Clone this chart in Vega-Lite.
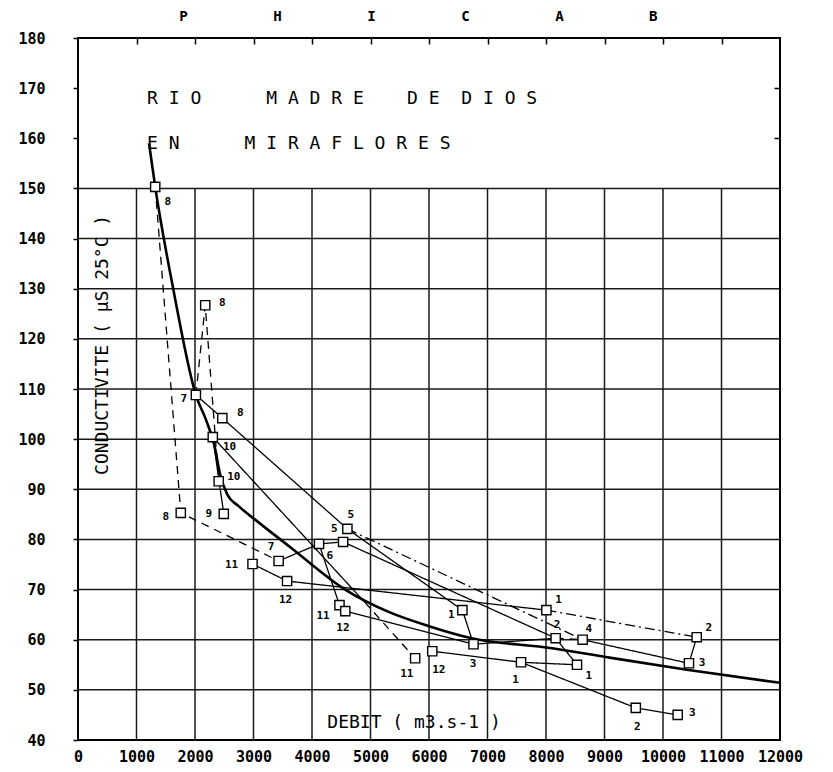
{
  "$schema": "https://vega.github.io/schema/vega-lite/v6.json",
  "width": 702,
  "height": 702,
  "autosize": {"type": "none"},
  "padding": {"left": 78, "top": 38, "right": 53, "bottom": 32},
  "background": "white",
  "config": {"view": {"stroke": "black", "strokeWidth": 2}, "font": "DejaVu Sans Mono"},
  "datasets": {
    "hgrid": [{"g": 50}, {"g": 60}, {"g": 70}, {"g": 80}, {"g": 90}, {"g": 100}, {"g": 110}, {"g": 120}, {"g": 130}, {"g": 140}, {"g": 150}],
    "vgrid": [{"g": 1000}, {"g": 2000}, {"g": 3000}, {"g": 4000}, {"g": 5000}, {"g": 6000}, {"g": 7000}, {"g": 8000}, {"g": 9000}, {"g": 10000}, {"g": 11000}],
    "obs": [
      {"m": "8", "x": 1320, "y": 150.3, "lx": 1535, "ly": 147.3},
      {"m": "8", "x": 2175, "y": 126.7, "lx": 2465, "ly": 127.1},
      {"m": "7", "x": 2015, "y": 108.8, "lx": 1810, "ly": 108},
      {"m": "8", "x": 2467, "y": 104.2, "lx": 2776, "ly": 105.2},
      {"m": "10", "x": 2304, "y": 100.4, "lx": 2590, "ly": 98.4},
      {"m": "10", "x": 2405, "y": 91.6, "lx": 2663, "ly": 92.4},
      {"m": "9", "x": 2492, "y": 85.1, "lx": 2235, "ly": 85.1},
      {"m": "8", "x": 1757, "y": 85.3, "lx": 1500, "ly": 84.5},
      {"m": "5", "x": 4605, "y": 82.1, "lx": 4663, "ly": 84.9},
      {"m": "5", "x": 4532, "y": 79.5, "lx": 4383, "ly": 82.1},
      {"m": "6", "x": 4120, "y": 79.1, "lx": 4303, "ly": 76.7},
      {"m": "7", "x": 3429, "y": 75.7, "lx": 3299, "ly": 78.5},
      {"m": "11", "x": 2983, "y": 75.1, "lx": 2624, "ly": 74.9},
      {"m": "12", "x": 3574, "y": 71.7, "lx": 3549, "ly": 67.9},
      {"m": "11", "x": 4470, "y": 66.9, "lx": 4190, "ly": 64.7},
      {"m": "12", "x": 4569, "y": 65.7, "lx": 4528, "ly": 62.3},
      {"m": "1", "x": 6571, "y": 65.9, "lx": 6380, "ly": 65},
      {"m": "1", "x": 8007, "y": 65.9, "lx": 8215, "ly": 68},
      {"m": "2", "x": 10576, "y": 60.5, "lx": 10785, "ly": 62.3},
      {"m": "2", "x": 8165, "y": 60.3, "lx": 8190, "ly": 62.9},
      {"m": "4", "x": 8626, "y": 60, "lx": 8733, "ly": 62.1},
      {"m": "3", "x": 6761, "y": 59.1, "lx": 6752, "ly": 55.2},
      {"m": "3", "x": 10444, "y": 55.3, "lx": 10667, "ly": 55.3},
      {"m": "1", "x": 8530, "y": 55, "lx": 8730, "ly": 52.8},
      {"m": "1", "x": 7573, "y": 55.5, "lx": 7480, "ly": 52},
      {"m": "12", "x": 6056, "y": 57.7, "lx": 6168, "ly": 54},
      {"m": "11", "x": 5763, "y": 56.3, "lx": 5620, "ly": 53.2},
      {"m": "2", "x": 9535, "y": 46.4, "lx": 9560, "ly": 42.6},
      {"m": "3", "x": 10251, "y": 45, "lx": 10500, "ly": 45.4}
    ],
    "links": [
      {"s": "a", "k": "dashed", "o": 1, "x": 1320, "y": 150.3},
      {"s": "a", "k": "dashed", "o": 2, "x": 1757, "y": 85.3},
      {"s": "a", "k": "dashed", "o": 3, "x": 3429, "y": 75.7},
      {"s": "b", "k": "plain", "o": 1, "x": 3429, "y": 75.7},
      {"s": "b", "k": "plain", "o": 2, "x": 4120, "y": 79.1},
      {"s": "b", "k": "plain", "o": 3, "x": 4532, "y": 79.5},
      {"s": "b", "k": "plain", "o": 4, "x": 8165, "y": 60.3},
      {"s": "b", "k": "plain", "o": 5, "x": 8530, "y": 55},
      {"s": "c", "k": "plain", "o": 1, "x": 2015, "y": 108.8},
      {"s": "c", "k": "plain", "o": 2, "x": 2467, "y": 104.2},
      {"s": "c", "k": "plain", "o": 3, "x": 4605, "y": 82.1},
      {"s": "c", "k": "plain", "o": 4, "x": 6571, "y": 65.9},
      {"s": "c", "k": "plain", "o": 5, "x": 6761, "y": 59.1},
      {"s": "c", "k": "plain", "o": 6, "x": 8165, "y": 60.3},
      {"s": "d", "k": "plain", "o": 1, "x": 2983, "y": 75.1},
      {"s": "d", "k": "plain", "o": 2, "x": 3574, "y": 71.7},
      {"s": "d", "k": "plain", "o": 3, "x": 8007, "y": 65.9},
      {"s": "e", "k": "dashdot", "o": 1, "x": 8007, "y": 65.9},
      {"s": "e", "k": "dashdot", "o": 2, "x": 10576, "y": 60.5},
      {"s": "f", "k": "plain", "o": 1, "x": 10576, "y": 60.5},
      {"s": "f", "k": "plain", "o": 2, "x": 10444, "y": 55.3},
      {"s": "f", "k": "plain", "o": 3, "x": 8626, "y": 60},
      {"s": "g", "k": "dashed", "o": 1, "x": 8165, "y": 60.3},
      {"s": "g", "k": "dashed", "o": 2, "x": 8626, "y": 60},
      {"s": "h", "k": "dashdot", "o": 1, "x": 4605, "y": 82.1},
      {"s": "h", "k": "dashdot", "o": 2, "x": 8626, "y": 60},
      {"s": "i", "k": "dashed", "o": 1, "x": 2015, "y": 108.8},
      {"s": "i", "k": "dashed", "o": 2, "x": 2175, "y": 126.7},
      {"s": "i", "k": "dashed", "o": 3, "x": 2405, "y": 91.6},
      {"s": "j", "k": "plain", "o": 1, "x": 2304, "y": 100.4},
      {"s": "j", "k": "plain", "o": 2, "x": 4900, "y": 67.5},
      {"s": "k", "k": "dashed", "o": 1, "x": 4900, "y": 67.5},
      {"s": "k", "k": "dashed", "o": 2, "x": 5763, "y": 56.3},
      {"s": "l", "k": "plain", "o": 1, "x": 6056, "y": 57.7},
      {"s": "l", "k": "plain", "o": 2, "x": 7573, "y": 55.5},
      {"s": "l", "k": "plain", "o": 3, "x": 8530, "y": 55},
      {"s": "m", "k": "plain", "o": 1, "x": 7573, "y": 55.5},
      {"s": "m", "k": "plain", "o": 2, "x": 9535, "y": 46.4},
      {"s": "m", "k": "plain", "o": 3, "x": 10251, "y": 45},
      {"s": "n", "k": "plain", "o": 1, "x": 2304, "y": 100.4},
      {"s": "n", "k": "plain", "o": 2, "x": 2492, "y": 85.1},
      {"s": "p", "k": "plain", "o": 1, "x": 4120, "y": 79.1},
      {"s": "p", "k": "plain", "o": 2, "x": 4470, "y": 66.9},
      {"s": "p", "k": "plain", "o": 3, "x": 4569, "y": 65.7},
      {"s": "p", "k": "plain", "o": 4, "x": 6761, "y": 59.1}
    ],
    "fit": [
      {"x": 1214, "y": 159}, {"x": 1320, "y": 150.3}, {"x": 1632, "y": 129.7}, {"x": 2015, "y": 108.8},
      {"x": 2200, "y": 103.5}, {"x": 2330, "y": 98.8}, {"x": 2430, "y": 93}, {"x": 2550, "y": 89},
      {"x": 2750, "y": 86.6}, {"x": 3000, "y": 84.2}, {"x": 3624, "y": 78.5}, {"x": 4580, "y": 69.9},
      {"x": 5300, "y": 65.6}, {"x": 6000, "y": 62.7}, {"x": 6728, "y": 60.3}, {"x": 8104, "y": 58.3},
      {"x": 9046, "y": 56.5}, {"x": 10407, "y": 54}, {"x": 12000, "y": 51.4}
    ]
  },
  "resolve": {"axis": {"x": "independent", "y": "independent"}},
  "layer": [
    {
      "data": {"name": "hgrid"},
      "mark": {"type": "rule", "color": "#1a1a1a", "strokeWidth": 1.5},
      "encoding": {
        "y": {"field": "g", "type": "quantitative", "scale": {"domain": [40, 180], "nice": false, "zero": false}, "axis": null},
        "x": {"datum": 0, "type": "quantitative", "scale": {"domain": [0, 12000], "nice": false, "zero": false}, "axis": null},
        "x2": {"datum": 12000}
      }
    },
    {
      "data": {"name": "vgrid"},
      "mark": {"type": "rule", "color": "#1a1a1a", "strokeWidth": 1.5},
      "encoding": {
        "x": {"field": "g", "type": "quantitative", "axis": null},
        "y": {"datum": 40, "type": "quantitative", "axis": null},
        "y2": {"datum": 150}
      }
    },
    {
      "data": {"name": "links"},
      "mark": {"type": "line", "color": "black", "strokeWidth": 1.3},
      "encoding": {
        "x": {"field": "x", "type": "quantitative", "axis": null},
        "y": {"field": "y", "type": "quantitative", "axis": null},
        "detail": {"field": "s"},
        "order": {"field": "o", "type": "quantitative"},
        "strokeDash": {"field": "k", "type": "nominal", "legend": null,
          "scale": {"domain": ["plain", "dashed", "dashdot"], "range": [[1, 0], [8, 6], [10, 4, 2, 4]]}}
      }
    },
    {
      "data": {"name": "fit"},
      "mark": {"type": "line", "color": "black", "strokeWidth": 2.6, "interpolate": "monotone"},
      "encoding": {
        "x": {"field": "x", "type": "quantitative",
          "axis": {"orient": "top", "zindex": 1, "offset": -6, "values": [1000, 2000, 3000, 4000, 5000, 6000, 7000, 8000, 9000, 10000, 11000], "labels": false, "ticks": true, "tickSize": 6, "tickColor": "black", "tickWidth": 1.5, "domain": false, "grid": false, "title": null}},
        "y": {"field": "y", "type": "quantitative",
          "axis": {"orient": "right", "zindex": 1, "offset": -6, "values": [160, 170], "labels": false, "ticks": true, "tickSize": 6, "tickColor": "black", "tickWidth": 1.5, "domain": false, "grid": false, "title": null}}
      }
    },
    {
      "data": {"name": "obs"},
      "mark": {"type": "point", "shape": "square", "size": 85, "filled": true, "fill": "white", "stroke": "black", "strokeWidth": 1.4, "opacity": 1},
      "encoding": {
        "x": {"field": "x", "type": "quantitative",
          "axis": {"orient": "bottom", "values": [0, 1000, 2000, 3000, 4000, 5000, 6000, 7000, 8000, 9000, 10000, 11000, 12000], "format": "d", "labelFont": "DejaVu Sans Mono", "labelFontSize": 15, "labelFontWeight": "bold", "labelColor": "black", "labelDx": 14, "labelPadding": 9, "labelFlush": false, "labelOverlap": false, "ticks": false, "domain": false, "grid": false, "title": null}},
        "y": {"field": "y", "type": "quantitative",
          "axis": {"orient": "left", "values": [40, 50, 60, 70, 80, 90, 100, 110, 120, 130, 140, 150, 160, 170, 180], "format": "d", "labelFont": "DejaVu Sans Mono", "labelFontSize": 15, "labelFontWeight": "bold", "labelColor": "black", "labelPadding": 28, "labelOverlap": false, "ticks": true, "tickSize": 5, "tickColor": "black", "tickWidth": 1.5, "domain": false, "grid": false, "title": null}}
      }
    },
    {
      "data": {"name": "obs"},
      "mark": {"type": "text", "font": "DejaVu Sans Mono", "fontSize": 11, "fontWeight": "bold", "color": "black", "align": "center", "baseline": "middle"},
      "encoding": {
        "x": {"field": "lx", "type": "quantitative", "axis": null},
        "y": {"field": "ly", "type": "quantitative", "axis": null},
        "text": {"field": "m"}
      }
    },
    {
      "data": {"values": [{}]},
      "mark": {"type": "text", "text": "R\u00a0I\u00a0O\u00a0\u00a0\u00a0\u00a0\u00a0\u00a0M\u00a0A\u00a0D\u00a0R\u00a0E\u00a0\u00a0\u00a0\u00a0D\u00a0E\u00a0\u00a0D\u00a0I\u00a0O\u00a0S", "font": "DejaVu Sans Mono", "fontSize": 18, "color": "black", "align": "left", "baseline": "middle"},
      "encoding": {
        "x": {"datum": 1180, "type": "quantitative", "axis": null},
        "y": {"datum": 167.8, "type": "quantitative", "axis": null}
      }
    },
    {
      "data": {"values": [{}]},
      "mark": {"type": "text", "text": "E\u00a0N\u00a0\u00a0\u00a0\u00a0\u00a0\u00a0M\u00a0I\u00a0R\u00a0A\u00a0F\u00a0L\u00a0O\u00a0R\u00a0E\u00a0S", "font": "DejaVu Sans Mono", "fontSize": 18, "color": "black", "align": "left", "baseline": "middle"},
      "encoding": {
        "x": {"datum": 1180, "type": "quantitative", "axis": null},
        "y": {"datum": 158.9, "type": "quantitative", "axis": null}
      }
    },
    {
      "data": {"values": [{}]},
      "mark": {"type": "text", "text": "P\u00a0\u00a0\u00a0\u00a0\u00a0\u00a0\u00a0\u00a0\u00a0\u00a0H\u00a0\u00a0\u00a0\u00a0\u00a0\u00a0\u00a0\u00a0\u00a0\u00a0I\u00a0\u00a0\u00a0\u00a0\u00a0\u00a0\u00a0\u00a0\u00a0\u00a0C\u00a0\u00a0\u00a0\u00a0\u00a0\u00a0\u00a0\u00a0\u00a0\u00a0A\u00a0\u00a0\u00a0\u00a0\u00a0\u00a0\u00a0\u00a0\u00a0\u00a0B", "font": "DejaVu Sans Mono", "fontSize": 14.2, "fontWeight": "bold", "color": "black", "align": "center", "baseline": "middle"},
      "encoding": {
        "x": {"datum": 5820, "type": "quantitative", "axis": null},
        "y": {"datum": 184.2, "type": "quantitative", "axis": null}
      }
    },
    {
      "data": {"values": [{}]},
      "mark": {"type": "text", "text": "CONDUCTIVITE ( µS 25°C )", "font": "DejaVu Sans Mono", "fontSize": 18, "color": "black", "align": "center", "baseline": "middle", "angle": 270},
      "encoding": {
        "x": {"datum": 430, "type": "quantitative", "axis": null},
        "y": {"datum": 118.8, "type": "quantitative", "axis": null}
      }
    },
    {
      "data": {"values": [{}]},
      "mark": {"type": "text", "text": "DEBIT ( m3.s-1 )", "font": "DejaVu Sans Mono", "fontSize": 18, "color": "black", "align": "center", "baseline": "middle"},
      "encoding": {
        "x": {"datum": 5744, "type": "quantitative", "axis": null},
        "y": {"datum": 43.4, "type": "quantitative", "axis": null}
      }
    }
  ]
}
